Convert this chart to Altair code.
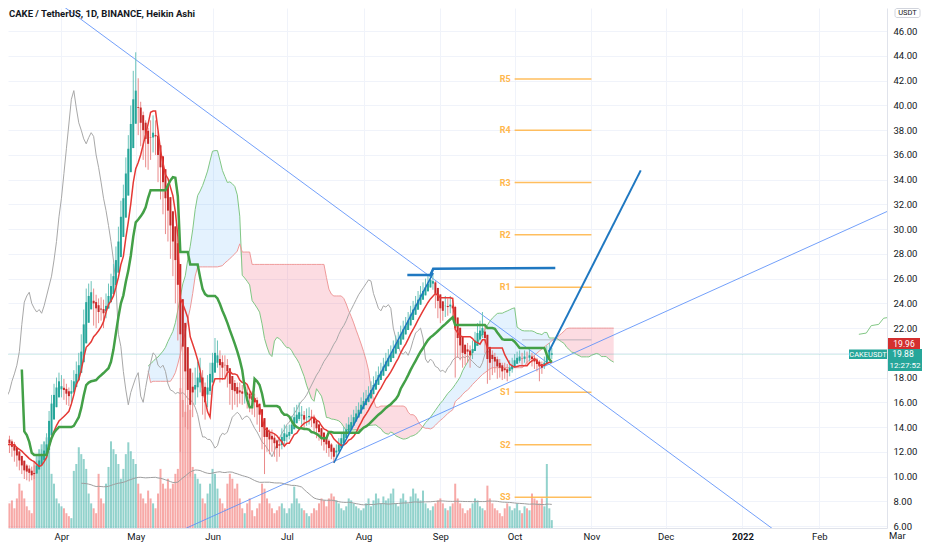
import altair as alt
import pandas as pd
import numpy as np

# ---------------- Heikin Ashi daily data (CAKE/USDT) ----------------
first_open = 12.0
close_feb = [14.0, 16.0, 15.5, 13.5, 11.5, 12.0, 12.3, 11.8, 12.0, 11.5]
close_mar = [12.2, 12.5, 12.8, 12.4, 12.1, 12.3, 12.7, 13.0, 13.2, 13.0,
             12.7, 12.4, 12.1, 11.7, 11.3, 10.9, 10.5, 10.4, 10.3, 10.1,
             10.2, 10.9, 11.3, 11.7, 12.1, 12.6, 14.5, 15.9, 16.6, 17.2, 17.7]
close_apr = [17.3, 17.0, 16.7, 16.5, 16.9, 17.7, 18.3, 19.0, 20.1, 22.3,
             24.1, 24.6, 24.9, 24.0, 23.6, 23.3, 23.5, 23.2, 23.8, 24.6,
             25.4, 26.2, 27.5, 29.0, 31.0, 32.5, 34.5, 36.5, 38.5, 40.5]
close_may = [41.2, 39.8, 38.6, 38.0, 37.3, 36.9, 37.4, 37.8, 37.5, 36.0,
             35.0, 33.8, 32.5, 31.5, 30.3, 29.0, 27.5, 25.5, 21.5, 20.5,
             18.5, 17.0, 15.8, 16.8, 17.4, 18.0, 18.4, 16.5, 16.0, 17.2, 18.3]
close_jun = [19.2, 20.0, 19.8, 19.0, 18.8, 19.0, 18.5, 17.5, 17.0, 16.9,
             16.7, 16.8, 16.7, 16.8, 16.6, 16.3, 16.2, 16.0, 15.6, 15.0,
             14.0, 13.2, 13.2, 13.0, 13.0, 12.7, 12.3, 12.5, 13.2, 13.5]
close_jul = [13.4, 13.6, 14.2, 14.8, 15.0, 15.2, 15.0, 14.6, 14.8, 14.9,
             14.7, 14.3, 13.9, 13.6, 13.2, 12.8, 12.6, 12.3, 12.0, 11.6,
             12.1, 12.6, 13.1, 13.5, 13.8, 14.2, 14.4, 14.8, 15.1, 15.4, 15.8]
close_aug = [16.1, 16.3, 16.6, 17.0, 17.4, 17.8, 18.2, 18.5, 18.9, 19.3,
             19.6, 19.9, 20.3, 20.7, 21.0, 21.5, 21.9, 22.2, 22.6, 23.1,
             23.5, 23.9, 24.3, 24.7, 25.0, 25.3, 25.6, 25.9, 25.8, 24.8, 24.2]
close_sep = [23.6, 23.4, 23.8, 23.7, 23.9, 23.6, 22.0, 21.2, 20.6, 20.0,
             19.9, 20.1, 19.8, 20.3, 21.0, 21.6, 21.8, 22.0, 21.2, 19.5,
             19.2, 19.5, 19.3, 18.9, 18.8, 18.5, 18.6, 18.4, 18.8, 19.0]
close_oct = [19.4, 19.6, 19.7, 19.5, 19.7, 19.6, 19.8, 19.5, 19.3, 19.1,
             18.9, 18.8, 19.2, 19.9, 20.2, 19.96]

hi_feb = [27.5, 17.5, 17.0, 16.0, 13.5, 13.5, 13.2, 12.8, 12.9, 12.4]
hi_mar = [13.0, 13.2, 13.4, 13.2, 12.8, 12.9, 13.3, 13.6, 13.9, 13.6,
          13.3, 13.0, 12.8, 12.4, 12.0, 11.6, 11.2, 11.0, 10.9, 10.8,
          10.9, 11.3, 11.8, 12.2, 12.8, 13.5, 15.3, 16.6, 17.5, 18.0, 18.4]
hi_apr = [18.2, 17.9, 17.5, 17.2, 17.8, 18.6, 19.3, 20.0, 21.5, 23.5,
          25.2, 25.6, 25.8, 25.2, 24.7, 24.4, 24.5, 24.3, 24.8, 25.6,
          26.4, 27.2, 28.6, 30.2, 32.3, 33.6, 35.8, 37.6, 40.0, 42.8]
hi_may = [44.3, 42.2, 40.3, 39.5, 38.8, 38.2, 38.8, 39.2, 38.8, 37.9,
          36.8, 35.5, 34.0, 33.2, 32.0, 30.6, 29.2, 27.6, 25.6, 23.5,
          21.3, 19.7, 18.5, 18.4, 18.8, 19.3, 19.6, 18.6, 17.6, 18.2, 19.2]
hi_jun = [20.0, 21.2, 21.0, 20.2, 19.8, 19.8, 19.5, 18.6, 18.0, 17.8,
          17.6, 17.6, 17.4, 17.5, 17.4, 17.0, 16.9, 16.7, 16.4, 15.8,
          15.2, 14.2, 14.0, 13.8, 13.8, 13.4, 13.0, 13.2, 13.9, 14.2]
hi_jul = [14.1, 14.2, 14.9, 15.6, 15.8, 16.0, 15.7, 15.3, 15.5, 15.6,
          15.4, 15.0, 14.6, 14.2, 13.9, 13.5, 13.3, 13.0, 12.7, 12.4,
          12.6, 13.1, 13.6, 14.0, 14.3, 14.8, 15.0, 15.4, 15.7, 16.0, 16.4]
hi_aug = [16.8, 17.0, 17.3, 17.7, 18.1, 18.5, 18.9, 19.2, 19.6, 20.0,
          20.3, 20.6, 21.0, 21.4, 21.7, 22.2, 22.6, 22.9, 23.3, 23.8,
          24.2, 24.6, 25.0, 25.4, 25.7, 26.0, 26.3, 26.5, 26.4, 25.8, 25.2]
hi_sep = [24.5, 24.2, 24.6, 24.4, 24.6, 24.3, 23.8, 22.4, 21.6, 21.0,
          20.6, 20.8, 20.6, 21.0, 21.7, 22.4, 22.6, 23.3, 22.2, 21.4,
          20.1, 20.2, 20.0, 19.7, 19.5, 19.2, 19.2, 19.1, 19.4, 19.6]
hi_oct = [19.9, 20.1, 20.2, 20.0, 20.2, 20.1, 20.3, 20.0, 19.8, 19.6,
          19.4, 19.3, 19.7, 20.6, 20.8, 20.4]

lo_feb = [9.8, 12.5, 13.0, 10.5, 9.8, 10.5, 11.0, 10.6, 11.2, 10.2]
lo_mar = [11.0, 11.8, 12.0, 11.5, 11.3, 11.7, 12.1, 12.4, 12.6, 12.3,
          11.9, 11.6, 11.2, 10.8, 10.5, 10.2, 9.8, 9.7, 9.6, 9.7,
          9.8, 10.3, 10.8, 11.2, 11.6, 12.0, 12.8, 14.0, 15.6, 16.2, 16.8]
lo_apr = [16.4, 16.2, 15.8, 15.7, 16.0, 16.8, 17.4, 18.0, 19.0, 20.4,
          22.0, 23.3, 23.8, 22.2, 22.0, 22.4, 22.6, 22.0, 22.8, 23.6,
          24.4, 25.0, 26.0, 27.3, 29.0, 30.6, 32.4, 34.4, 36.4, 38.3]
lo_may = [39.0, 37.6, 36.7, 35.6, 35.0, 34.8, 35.6, 36.2, 36.0, 33.8,
          32.4, 31.2, 29.6, 29.0, 27.6, 26.2, 24.0, 21.0, 12.0, 14.8,
          14.0, 13.8, 10.0, 14.8, 15.8, 16.4, 16.8, 15.0, 14.6, 15.6, 16.6]
lo_jun = [17.8, 18.6, 18.8, 17.6, 17.8, 18.0, 17.2, 15.8, 15.4, 15.8,
          15.6, 15.9, 15.8, 15.9, 15.5, 15.2, 15.0, 14.8, 14.2, 13.6,
          12.2, 10.2, 12.0, 11.8, 12.0, 11.6, 11.2, 11.6, 12.2, 12.6]
lo_jul = [12.8, 13.0, 13.5, 14.1, 14.3, 14.5, 14.2, 13.8, 14.1, 14.2,
          14.0, 13.6, 13.1, 12.9, 12.5, 12.1, 11.9, 11.6, 11.4, 11.1,
          11.4, 12.0, 12.5, 12.9, 13.2, 13.6, 13.8, 14.2, 14.5, 14.8, 15.2]
lo_aug = [15.5, 15.8, 16.0, 16.4, 16.8, 17.2, 17.6, 17.9, 18.3, 18.7,
          19.0, 19.3, 19.7, 20.1, 20.4, 20.9, 21.3, 21.6, 22.0, 22.5,
          22.9, 23.3, 23.7, 24.1, 24.4, 24.7, 25.0, 25.3, 25.1, 23.6, 22.8]
lo_sep = [22.4, 22.6, 22.9, 23.0, 23.2, 22.8, 18.0, 19.6, 19.4, 18.8,
          19.0, 19.2, 18.8, 19.5, 20.2, 20.8, 21.0, 21.2, 20.0, 17.5,
          17.8, 18.2, 18.4, 17.9, 18.0, 17.8, 17.9, 17.7, 18.1, 18.4]
lo_oct = [18.8, 19.1, 19.2, 18.9, 19.2, 19.0, 19.3, 18.9, 18.7, 18.5,
          17.7, 18.3, 18.7, 19.3, 19.6, 19.5]

# volume (relative units)
vol_feb = [80, 70, 62, 58, 70, 52, 46, 40, 36, 42]
vol_mar = [45, 40, 36, 38, 35, 30, 32, 35, 30, 35, 25, 28, 20, 30, 45, 38, 30, 22, 18, 15,
           68, 75, 80, 85, 88, 92, 88, 55, 45, 30, 25]
vol_apr = [22, 20, 15, 12, 10, 58, 65, 82, 75, 70, 60, 35, 25, 20, 15, 55, 30, 25,
           45, 62, 88, 80, 75, 65, 50, 60, 75, 87, 78, 70]
vol_may = [65, 45, 35, 30, 25, 38, 30, 25, 20, 35, 60, 45, 40, 50, 40, 45, 55, 60,
           142, 130, 118, 125, 120, 62, 55, 50, 45, 30, 25, 35, 45]
vol_jun = [60, 55, 40, 30, 25, 20, 45, 55, 50, 40, 45, 30, 20, 15, 25, 30, 18, 12, 20, 25,
           45, 40, 30, 25, 20, 15, 18, 22, 25, 20]
vol_jul = [15, 20, 25, 42, 30, 25, 20, 18, 15, 12, 15, 20, 18, 25, 30, 28, 22, 30, 35, 32,
           28, 25, 20, 18, 22, 30, 28, 25, 22, 20, 18]
vol_aug = [20, 25, 30, 22, 28, 35, 30, 25, 32, 28, 30, 35, 40, 25, 22, 30, 35, 28, 25, 32,
           40, 35, 30, 28, 38, 25, 20, 18, 22, 25, 28]
vol_sep = [30, 25, 20, 18, 22, 25, 45, 30, 25, 20, 15, 18, 20, 25, 30, 28, 22, 20, 18, 43,
           30, 25, 20, 18, 15, 12, 20, 25, 22, 18]
vol_oct = [20, 25, 18, 15, 22, 20, 18, 35, 30, 28, 25, 30, 22, 65, 20, 8]

# pivot levels (October)
pivot_names = ["R5", "R4", "R3", "R2", "R1", "S1", "S2", "S3"]
pivot_values = [42.15, 38.0, 33.77, 29.55, 25.3, 16.82, 12.57, 8.33]
pivot_p = 21.05

# drawings (date, price anchors)
desc_line_dates = ["2021-03-20 00:00", "2022-02-01 00:00"]
desc_line_prices = [49.9, 3.0]
asc_line_dates = ["2021-05-20 00:00", "2022-03-10 00:00"]
asc_line_prices = [5.7, 32.3]
swing_dates = ["2021-07-20 00:00", "2021-08-29 03:00"]
swing_prices = [11.1, 26.46]
level_dates = ["2021-08-18 16:00", "2021-08-28 00:00", "2021-08-29 03:00", "2021-10-17 10:00"]
level_prices = [26.3, 26.3, 26.8, 26.85]
proj_dates = ["2021-10-14 20:00", "2021-11-20 22:00"]
proj_prices = [20.1, 34.75]
far_dates = ["2022-02-17 00:00", "2022-02-20 00:00", "2022-02-22 00:00", "2022-02-25 00:00",
             "2022-02-27 00:00", "2022-03-02 00:00"]
far_prices = [21.5, 21.6, 22.2, 22.3, 22.8, 22.9]

last_price = 19.88

# ---------------- build tables ----------------
close = close_feb + close_mar + close_apr + close_may + close_jun + close_jul + close_aug + close_sep + close_oct
high_in = hi_feb + hi_mar + hi_apr + hi_may + hi_jun + hi_jul + hi_aug + hi_sep + hi_oct
low_in = lo_feb + lo_mar + lo_apr + lo_may + lo_jun + lo_jul + lo_aug + lo_sep + lo_oct
volume = vol_feb + vol_mar + vol_apr + vol_may + vol_jun + vol_jul + vol_aug + vol_sep + vol_oct
n = len(close)
assert all(len(a) == n for a in (high_in, low_in, volume)), (n, len(high_in), len(low_in), len(volume))

dates = pd.date_range("2021-02-19", periods=n + 26, freq="D")
c = np.array(close, float)
o = np.empty(n)
o[0] = first_open
for i in range(1, n):
    o[i] = (o[i - 1] + c[i - 1]) / 2
h = np.maximum(np.maximum(np.array(high_in, float), o), c)
l = np.minimum(np.minimum(np.array(low_in, float), o), c)
direction = np.where(c >= o, "up", "down")

candles = pd.DataFrame({"date": dates[:n], "open": o, "close": c, "high": h, "low": l,
                        "dir": direction, "vol": volume})
candles["volma"] = pd.Series(volume, dtype=float).rolling(50).mean()

sh, sl = pd.Series(h), pd.Series(l)
def midpoint(p):
    return (sh.rolling(p).max() + sl.rolling(p).min()) / 2
tenkan = midpoint(9)
kijun = midpoint(26)
span_a = (tenkan + kijun) / 2
span_b = midpoint(52)

lines_df = pd.DataFrame({"date": dates[:n], "tenkan": tenkan, "kijun": kijun})
lead = pd.DataFrame({"date": dates[25:25 + n], "a": span_a.values, "b": span_b.values}).dropna()
lead["lowab"] = np.minimum(lead["a"], lead["b"])
lag = pd.DataFrame({"date": dates[:n - 25], "v": c[25:]})

# layout: page must fit 932x550 incl. 8px body margin -> svg <= 916x534
W, H = 879, 520
x_scale = alt.Scale(domain=[alt.DateTime(year=2021, month=3, date=12, hours=10, minutes=30),
                            alt.DateTime(year=2022, month=2, date=26, hours=8, minutes=10)], nice=False)
y_scale = alt.Scale(domain=[5.84, 47.88], zero=False, nice=False)

FONT = "Roboto"
month_ticks = [alt.DateTime(year=2021, month=m, date=1) for m in range(4, 13)] + \
              [alt.DateTime(year=2022, month=m, date=1) for m in (1, 2)]
x_axis = alt.Axis(values=month_ticks, title=None, grid=True, gridColor="#f0f3fa", ticks=False,
                  domainColor="#e0e3eb", labelColor="#131722", labelFontSize=9.5, labelFont=FONT,
                  labelPadding=3, labelFlush=False,
                  labelExpr="month(datum.value) == 0 ? timeFormat(datum.value, '%Y') : timeFormat(datum.value, '%b')",
                  labelFontWeight={"condition": {"test": "month(datum.value) == 0", "value": "bold"}, "value": "normal"})
y_axis = alt.Axis(orient="right", values=list(range(6, 48, 2)), title=None, grid=True,
                  gridColor="#f0f3fa", ticks=False, domainColor="#e0e3eb", labelColor="#131722",
                  labelFontSize=9.5, labelFont=FONT, labelPadding=6, labelFlush=False,
                  labelExpr="datum.value == 20 ? '' : format(datum.value, '.2f')")

X = alt.X("date:T", scale=x_scale, axis=x_axis)
TEAL, RED = "#26a69a", "#c62828"

def Y(field):
    return alt.Y(field, scale=y_scale, axis=y_axis)

# volume (own scale)
vol_scale = alt.Scale(domain=[0, 528], nice=False, zero=True)
vol_bars = alt.Chart(candles).mark_bar(size=2, opacity=0.5, clip=True).encode(
    x=X,
    y=alt.Y("vol:Q", scale=vol_scale, axis=None),
    color=alt.condition("datum.dir == 'up'", alt.value(TEAL), alt.value("#ef5350")))
vol_ma = alt.Chart(candles.dropna(subset=["volma"])).mark_line(strokeWidth=1, color="#9e9e9e", clip=True).encode(
    x=X, y=alt.Y("volma:Q", scale=vol_scale, axis=None))
vol_layer = alt.layer(vol_bars, vol_ma)

cloud_blue = alt.Chart(lead).mark_area(color="#2196f3", opacity=0.12, clip=True).encode(
    x=X, y=Y("a:Q"), y2="lowab:Q")
cloud_pink = alt.Chart(lead).mark_area(color="#f0506e", opacity=0.2, clip=True).encode(
    x=X, y=Y("b:Q"), y2="lowab:Q")
span_a_line = alt.Chart(lead).mark_line(color="#81c784", strokeWidth=1, clip=True).encode(x=X, y=Y("a:Q"))
span_b_line = alt.Chart(lead).mark_line(color="#ef9a9a", strokeWidth=1, clip=True).encode(x=X, y=Y("b:Q"))
lag_line = alt.Chart(lag).mark_line(color="#a8a8a8", strokeWidth=1, clip=True).encode(x=X, y=Y("v:Q"))

last_line = alt.Chart(pd.DataFrame({"p": [last_price]})).mark_rule(color=TEAL, opacity=0.2, strokeWidth=1).encode(
    y=Y("p:Q"))

piv_df = pd.DataFrame({"name": pivot_names, "value": pivot_values,
                       "date": pd.Timestamp("2021-10-01"), "end": pd.Timestamp("2021-11-01")})
piv_rules = alt.Chart(piv_df).mark_rule(color="#ffb74d", strokeWidth=1.5, opacity=0.9).encode(
    x=X, x2="end:T", y=Y("value:Q"))
piv_text = alt.Chart(piv_df).mark_text(color="#ffb74d", fontSize=9, fontWeight="bold", font=FONT,
                                       align="right", dx=-4, baseline="middle").encode(
    x=X, y=Y("value:Q"), text="name:N")
piv_p = alt.Chart(pd.DataFrame({"date": [pd.Timestamp("2021-10-04")], "end": [pd.Timestamp("2021-11-01")],
                                "value": [pivot_p]})).mark_rule(color="#9598a1", opacity=0.6, strokeWidth=1).encode(
    x=X, x2="end:T", y=Y("value:Q"))

tk_line = alt.Chart(lines_df.dropna(subset=["tenkan"])).mark_line(color="#e53935", strokeWidth=1.5, clip=True).encode(
    x=X, y=Y("tenkan:Q"))
kj_line = alt.Chart(lines_df.dropna(subset=["kijun"])).mark_line(color="#43a047", strokeWidth=2.5, clip=True).encode(
    x=X, y=Y("kijun:Q"))

wicks = alt.Chart(candles).mark_rule(strokeWidth=1, clip=True).encode(
    x=X, y=Y("low:Q"), y2="high:Q",
    color=alt.condition("datum.dir == 'up'", alt.value("#6cc3ba"), alt.value("#ea8a8a")))
bodies = alt.Chart(candles).mark_bar(size=2, clip=True).encode(
    x=X, y=Y("open:Q"), y2="close:Q",
    color=alt.condition("datum.dir == 'up'", alt.value(TEAL), alt.value(RED)))

def seg(dts, prs, color, width, opacity=1.0):
    df = pd.DataFrame({"date": pd.to_datetime(dts, format="%Y-%m-%d %H:%M"), "p": prs, "k": range(len(dts))})
    return alt.Chart(df).mark_line(color=color, strokeWidth=width, opacity=opacity, clip=True).encode(
        x=X, y=Y("p:Q"), order="k:Q")

desc_line = seg(desc_line_dates, desc_line_prices, "#5b8ff9", 1, 0.85)
asc_line = seg(asc_line_dates, asc_line_prices, "#5b8ff9", 1, 0.85)
swing_line = seg(swing_dates, swing_prices, "#1f78c1", 1.5)
level_line = seg(level_dates, level_prices, "#1f78c1", 2.5)
proj_line = seg(proj_dates, proj_prices, "#1f78c1", 2)
far_line = seg(far_dates, far_prices, "#81c784", 1)

# text / tags (pixel placed UI elements)
one = pd.DataFrame({"a": [0]})
title = alt.Chart(one).mark_text(text="CAKE / TetherUS, 1D, BINANCE, Heikin Ashi", align="left", baseline="top",
                                 fontSize=9.5, fontWeight="bold", font=FONT, color="#131722").encode(
    x=alt.value(1), y=alt.value(1))
red_box = alt.Chart(one).mark_rect(color="#d32f2f").encode(x=alt.value(880), x2=alt.value(912),
                                                           y=alt.value(330), y2=alt.value(341))
red_txt = alt.Chart(one).mark_text(text="19.96", color="white", fontSize=8.5, font=FONT, baseline="middle").encode(
    x=alt.value(896), y=alt.value(335.5))
teal_box = alt.Chart(one).mark_rect(color=TEAL).encode(x=alt.value(880), x2=alt.value(914),
                                                        y=alt.value(341), y2=alt.value(363))
teal_txt1 = alt.Chart(one).mark_text(text="19.88", color="white", fontSize=8.5, font=FONT, baseline="middle").encode(
    x=alt.value(895), y=alt.value(346))
teal_txt2 = alt.Chart(one).mark_text(text="12:27:52", color="white", fontSize=8, font=FONT, baseline="middle").encode(
    x=alt.value(897), y=alt.value(357.5))
sym_box = alt.Chart(one).mark_rect(color=TEAL).encode(x=alt.value(841), x2=alt.value(879),
                                                       y=alt.value(341.5), y2=alt.value(351))
sym_txt = alt.Chart(one).mark_text(text="CAKEUSDT", color="white", fontSize=7.5, font=FONT, baseline="middle").encode(
    x=alt.value(860), y=alt.value(346.5))
usdt_box = alt.Chart(one).mark_rect(fill="white", stroke="#d1d4dc", cornerRadius=2).encode(
    x=alt.value(887), x2=alt.value(912), y=alt.value(0.5), y2=alt.value(9.5))
usdt_txt = alt.Chart(one).mark_text(text="USDT", color="#131722", fontSize=7.5, font=FONT, baseline="middle").encode(
    x=alt.value(899.5), y=alt.value(5))
mar_txt = alt.Chart(one).mark_text(text="Mar", color="#131722", fontSize=9.5, font=FONT, baseline="top",
                                   align="left").encode(x=alt.value(881), y=alt.value(H + 3))

price_layer = alt.layer(
    cloud_blue, cloud_pink, span_a_line, span_b_line, far_line, last_line,
    piv_rules, piv_p, piv_text, lag_line, desc_line, asc_line,
    wicks, bodies, tk_line, kj_line,
    swing_line, level_line, proj_line,
    title, red_box, red_txt, teal_box, teal_txt1, teal_txt2, sym_box, sym_txt, usdt_box, usdt_txt, mar_txt)

chart = alt.layer(vol_layer, price_layer).resolve_scale(y="independent").properties(
    width=W, height=H,
    autosize=alt.AutoSizeParams(type="none"),
    padding={"left": 0, "top": 0, "right": 37, "bottom": 14},
    background="white",
).configure_view(stroke=None)

chart.save("out.html", embed_options={"renderer": "svg", "actions": False})
